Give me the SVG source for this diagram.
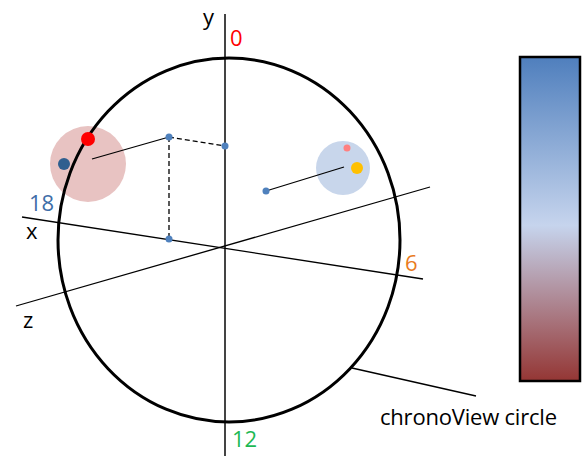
<svg xmlns="http://www.w3.org/2000/svg" width="584" height="456" viewBox="0 0 584 456">
<defs>
<linearGradient id="cbar" x1="0" y1="0" x2="0" y2="1">
<stop offset="0" stop-color="#4f7fbd"/>
<stop offset="0.52" stop-color="#c6d4ed"/>
<stop offset="1" stop-color="#943634"/>
</linearGradient>
</defs>
<style>
text{font-family:"Open Sans","Liberation Sans",sans-serif;font-size:22px}
.ax{stroke:#000;stroke-width:1.3;fill:none}
.dot{fill:#4f81bd}
.dash{stroke:#000;stroke-width:1.3;stroke-dasharray:5,3;fill:none}
</style>
<g id="axes">
<line class="ax" x1="225" y1="14" x2="225" y2="456" style="stroke:#444;stroke-width:2"/>
<line class="ax" x1="22" y1="217" x2="423" y2="279"/>
<line class="ax" x1="16" y1="306" x2="430" y2="187"/>
</g>
<g id="pinkBlob">
<circle cx="88" cy="164" r="38" fill="#e8c3c2"/>
</g>
<g id="blueBlob">
<circle cx="343" cy="168" r="27" fill="#c8d6eb"/>
</g>
<g id="chronoCircle">
<ellipse cx="229" cy="240" rx="171" ry="182" fill="none" stroke="#000" stroke-width="3"/>
</g>
<g id="connectors">
<line class="ax" x1="92" y1="159" x2="169" y2="137"/>
<line class="dash" x1="169" y1="137" x2="225" y2="146"/>
<line class="dash" x1="169" y1="137" x2="169" y2="239"/>
<line class="ax" x1="344" y1="167" x2="266" y2="191"/>
<line class="ax" x1="352" y1="368" x2="476" y2="396"/>
</g>
<g id="points">
<circle cx="88" cy="139" r="7" fill="#ff0000"/>
<circle cx="64" cy="164" r="6" fill="#2f5f8f"/>
<circle class="dot" cx="169" cy="137" r="3.5"/>
<circle class="dot" cx="225" cy="146" r="3.5"/>
<circle class="dot" cx="169" cy="239" r="3.5"/>
<circle class="dot" cx="266" cy="191" r="3.5"/>
<circle cx="347" cy="148" r="3.5" fill="#ff8080"/>
<circle cx="357" cy="168" r="6" fill="#ffc000"/>
</g>
<g id="colorbar">
<rect x="520" y="57" width="60" height="324" fill="url(#cbar)" stroke="#000" stroke-width="2.5"/>
</g>
<g id="labels">
<text x="203" y="25">y</text>
<text x="230" y="46" fill="#ff0000">0</text>
<text x="29" y="211" fill="#3e6ea8">18</text>
<text x="26" y="239">x</text>
<text x="23" y="328">z</text>
<text x="405" y="271" fill="#e97b1d">6</text>
<text x="232" y="447" fill="#1db954">12</text>
<text x="380" y="425" textLength="177">chronoView circle</text>
</g>
</svg>
